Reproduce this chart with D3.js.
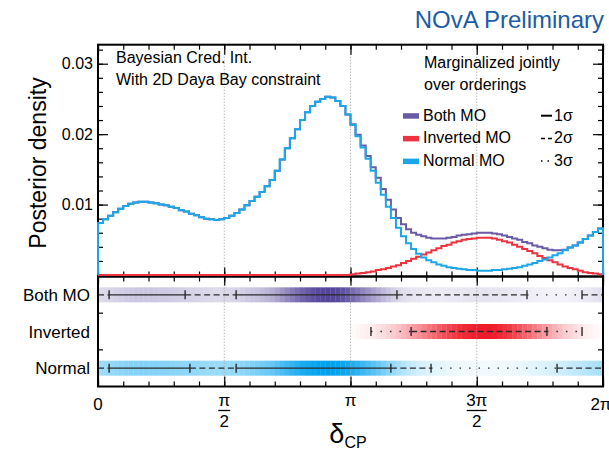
<!DOCTYPE html>
<html>
<head>
<meta charset="utf-8">
<script src="https://cdn.jsdelivr.net/npm/d3@7"></script>
<style>
  body { margin: 0; background: #fff; }
  text { font-family: "Liberation Sans", Arial, Helvetica, sans-serif; }
</style>
</head>
<body>
<svg id="chart" width="609" height="453"></svg>
<script>
// Posterior density per bin, 100 bins over [0, 2pi]
const normalMO = [
  0.0074, 0.0079, 0.0084, 0.0089, 0.0094, 0.0098, 0.0101, 0.0103, 0.0104, 0.0104,
  0.0103, 0.0102, 0.0100, 0.0099, 0.0097, 0.0095, 0.0092, 0.0090, 0.0087, 0.0085,
  0.0082, 0.0080, 0.0079, 0.0078, 0.0079, 0.0081, 0.0084, 0.0088, 0.0093, 0.0099,
  0.0105, 0.0111, 0.0118, 0.0126, 0.0135, 0.0148, 0.0164, 0.0180, 0.0194, 0.0207,
  0.0220, 0.0231, 0.0240, 0.0246, 0.0250, 0.0253, 0.0252, 0.0247, 0.0240, 0.0228,
  0.0213, 0.0197, 0.0181, 0.0165, 0.0148, 0.0131, 0.0114, 0.0097, 0.0081, 0.0067,
  0.0055, 0.0045, 0.0037, 0.0030, 0.0025, 0.0021, 0.0018, 0.0015, 0.0013, 0.0011,
  0.0010, 0.0009, 0.0008, 0.0007, 0.0007, 0.0006, 0.0006, 0.0006, 0.0007, 0.0007,
  0.0008, 0.0009, 0.0010, 0.0011, 0.0013, 0.0015, 0.0017, 0.0020, 0.0022, 0.0025,
  0.0028, 0.0031, 0.0035, 0.0039, 0.0042, 0.0046, 0.0051, 0.0056, 0.0061, 0.0066
];
const invertedMO = [
  0, 0, 0, 0, 0, 0, 0, 0, 0, 0,
  0, 0, 0, 0, 0, 0, 0, 0, 0, 0,
  0, 0, 0, 0, 0, 0, 0, 0, 0, 0,
  0, 0, 0, 0, 0, 0, 0, 0, 0, 0,
  0, 0, 0, 0, 0, 0, 0, 0, 0, 0,
  0.0001, 0.0002, 0.0003, 0.0004, 0.0005, 0.0007, 0.0008, 0.0010, 0.0012, 0.0014,
  0.0017, 0.0020, 0.0023, 0.0026, 0.0029, 0.0032, 0.0035, 0.0038, 0.0041, 0.0043,
  0.0046, 0.0048, 0.0050, 0.0051, 0.0052, 0.0053, 0.0053, 0.0053, 0.0052, 0.0050,
  0.0048, 0.0046, 0.0043, 0.0040, 0.0037, 0.0034, 0.0031, 0.0027, 0.0024, 0.0021,
  0.0018, 0.0015, 0.0012, 0.0010, 0.0008, 0.0006, 0.0004, 0.0003, 0.0002, 0.0001
];
const bothMO = [
  0.0074, 0.0079, 0.0084, 0.0089, 0.0094, 0.0098, 0.0101, 0.0103, 0.0104, 0.0104,
  0.0103, 0.0102, 0.0100, 0.0099, 0.0097, 0.0095, 0.0092, 0.0090, 0.0087, 0.0085,
  0.0082, 0.0080, 0.0079, 0.0078, 0.0079, 0.0081, 0.0084, 0.0088, 0.0093, 0.0099,
  0.0105, 0.0111, 0.0118, 0.0126, 0.0135, 0.0148, 0.0164, 0.0180, 0.0194, 0.0207,
  0.0220, 0.0231, 0.0240, 0.0246, 0.0250, 0.0253, 0.0252, 0.0247, 0.0240, 0.0228,
  0.0214, 0.0199, 0.0184, 0.0169, 0.0153, 0.0138, 0.0122, 0.0107, 0.0093, 0.0081,
  0.0072, 0.0065, 0.0060, 0.0057, 0.0055, 0.0053, 0.0052, 0.0052, 0.0052, 0.0053,
  0.0054, 0.0056, 0.0057, 0.0058, 0.0059, 0.0060, 0.0060, 0.0060, 0.0059, 0.0058,
  0.0056, 0.0054, 0.0052, 0.0050, 0.0047, 0.0045, 0.0042, 0.0040, 0.0038, 0.0036,
  0.0035, 0.0035, 0.0036, 0.0039, 0.0042, 0.0046, 0.0051, 0.0056, 0.0061, 0.0066
];

const rowNames = ["Both MO", "Inverted", "Normal"];
const legendNames = ["Both MO", "Inverted MO", "Normal MO"];
const colors = ["#6a5aa6", "#ee3340", "#1ca6ea"];

// credible interval segments, [from, to, sigma] in units of pi
const bothIntervals = [[0, 0.044, 2], [0.044, 0.345, 1], [0.345, 0.547, 2], [0.547, 1.184, 1], [1.184, 1.699, 2], [1.699, 1.917, 3], [1.917, 2, 2]];
const invertedIntervals = [[1.081, 1.240, 3], [1.240, 1.778, 2], [1.778, 1.917, 3]];
const normalIntervals = [[0, 0.044, 2], [0.044, 0.364, 1], [0.364, 0.547, 2], [0.547, 1.160, 1], [1.160, 1.319, 2], [1.319, 1.818, 3], [1.818, 2, 2]];

const yTicks = [0.01, 0.02, 0.03];
const xMajor = [0, 0.5, 1, 1.5, 2];  // units of pi

const PI = Math.PI;
const svg = d3.select("#chart");
const L = 98, R = 603, T = 44.7, MID = 276.5, B = 386.5;

const x = d3.scaleLinear().domain([0, 2 * PI]).range([L, R]);
const y = d3.scaleLinear().domain([0, 0.0327]).range([275, T]);
const row = d3.scaleBand().domain(rowNames).range([MID, B]);

const binW = 2 * PI / normalMO.length;
const series = [bothMO, invertedMO, normalMO];
const rowIntervals = [bothIntervals, invertedIntervals, normalIntervals];
const bandColors = ["#54449a", "#ee1c2a", "#00a2ee"];
const bandGamma = [1.35, 1.0, 0.8];

// --- bottom panel: density bands
series.forEach((vals, k) => {
  const mx = d3.max(vals);
  const cy = row(rowNames[k]) + row.bandwidth() / 2;
  const interp = d3.interpolateRgb("#ffffff", bandColors[k]);
  svg.append("g").selectAll("rect")
    .data(vals).join("rect")
    .attr("x", (d, i) => x(i * binW))
    .attr("y", cy - 7.5)
    .attr("width", x(binW) - x(0) + 0.3)
    .attr("height", 15)
    .attr("fill", d => interp(Math.pow(d / mx, bandGamma[k])));
});

// dotted grid lines
svg.append("g").selectAll("line")
  .data([0.5, 1, 1.5]).join("line")
  .attr("x1", d => x(d * PI)).attr("x2", d => x(d * PI))
  .attr("y1", T).attr("y2", B)
  .attr("stroke", "#9a9a9a").attr("stroke-width", 1)
  .attr("stroke-dasharray", "1,2");

// interval lines
const dash = { 1: null, 2: "6,3.5", 3: "1.5,8" };
rowIntervals.forEach((segs, k) => {
  const cy = row(rowNames[k]) + row.bandwidth() / 2;
  const g = svg.append("g");
  g.selectAll("line.seg")
    .data(segs).join("line").attr("class", "seg")
    .attr("x1", d => x(d[0] * PI)).attr("x2", d => x(d[1] * PI))
    .attr("y1", cy).attr("y2", cy)
    .attr("stroke", "#2a2a2a").attr("stroke-width", 1.4)
    .attr("stroke-dasharray", d => dash[d[2]]);
  const edges = [];
  segs.forEach(s => { [s[0], s[1]].forEach(e => { if (e > 0 && e < 2 && !edges.includes(e)) edges.push(e); }); });
  g.selectAll("line.edge")
    .data(edges).join("line").attr("class", "edge")
    .attr("x1", d => x(d * PI)).attr("x2", d => x(d * PI))
    .attr("y1", cy - 4.5).attr("y2", cy + 4.5)
    .attr("stroke", "#2a2a2a").attr("stroke-width", 1.4);
});

// --- frames
svg.append("rect").attr("x", L).attr("y", T).attr("width", R - L).attr("height", MID - T)
  .attr("fill", "none").attr("stroke", "#000").attr("stroke-width", 2);
svg.append("rect").attr("x", L).attr("y", MID).attr("width", R - L).attr("height", B - MID)
  .attr("fill", "none").attr("stroke", "#000").attr("stroke-width", 2);

// --- axes ticks
const xMinor = d3.range(0, 21).map(i => i * PI / 10);
const xMaj = xMajor.map(d => d * PI);
function xTicksAt(yPos, axisFn, minorLen, majorLen) {
  [[xMinor, minorLen], [xMaj, majorLen]].forEach(([vals, len]) => {
    const g = svg.append("g").attr("transform", `translate(0,${yPos})`)
      .call(axisFn(x).tickValues(vals).tickSize(-len).tickFormat(""));
    g.select(".domain").remove();
    g.selectAll("line").attr("stroke", "#000").attr("stroke-width", 1.2);
  });
}
xTicksAt(T, d3.axisTop, 5, 10);
xTicksAt(MID, d3.axisBottom, 5, 9);
xTicksAt(MID, d3.axisTop, 5, 9);
xTicksAt(B, d3.axisBottom, 5, 10);

const yMinor = d3.range(1, 17).map(i => i * 0.002);
[[d3.axisLeft, L], [d3.axisRight, R]].forEach(([fn, pos]) => {
  [[yMinor, 5], [yTicks, 10]].forEach(([vals, len]) => {
    const g = svg.append("g").attr("transform", `translate(${pos},0)`)
      .call(fn(y).tickValues(vals).tickSize(-len).tickFormat(""));
    g.select(".domain").remove();
    g.selectAll("line").attr("stroke", "#000").attr("stroke-width", 1.2);
  });
});
// y labels
const yAx = svg.append("g").attr("transform", `translate(${L},0)`)
  .call(d3.axisLeft(y).tickValues(yTicks).tickSize(0).tickPadding(5).tickFormat(d3.format(".2f")));
yAx.select(".domain").remove();
yAx.selectAll("text").attr("font-size", 16).attr("fill", "#000");

// bottom panel row separators ticks
const rowEdges = rowNames.slice(1).map(n => row(n));
[[L, 1], [R, -1]].forEach(([pos, dir]) => {
  svg.append("g").selectAll("line").data(rowEdges).join("line")
    .attr("x1", pos).attr("x2", pos + dir * 5)
    .attr("y1", d => d).attr("y2", d => d)
    .attr("stroke", "#000").attr("stroke-width", 1.2);
});

// --- histograms (step outlines)
function stepPath(vals) {
  const p = d3.path();
  p.moveTo(x(0), y(0));
  vals.forEach((v, i) => {
    p.lineTo(x(i * binW), y(v));
    p.lineTo(x((i + 1) * binW), y(v));
  });
  p.lineTo(x(2 * PI), y(0));
  return p.toString();
}
series.forEach((vals, k) => {
  svg.append("path").attr("d", stepPath(vals))
    .attr("fill", "none").attr("stroke", colors[k]).attr("stroke-width", 2);
});

// --- row labels
svg.append("g").selectAll("text").data(rowNames).join("text")
  .attr("x", 90).attr("y", d => row(d) + row.bandwidth() / 2 + 6)
  .attr("text-anchor", "end").attr("font-size", 17).text(d => d);

// --- x tick labels
const lab = svg.append("g").attr("font-size", 17);
lab.append("text").attr("x", x(0)).attr("y", 410).attr("text-anchor", "middle").text("0");
lab.append("text").attr("x", x(PI)).attr("y", 406).attr("text-anchor", "middle").text("\u03C0");
lab.append("text").attr("x", x(2 * PI) - 2).attr("y", 410).attr("text-anchor", "middle").text("2\u03C0");
[[0.5, "\u03C0"], [1.5, "3\u03C0"]].forEach(([v, num]) => {
  const cx = x(v * PI);
  lab.append("text").attr("x", cx).attr("y", 406).attr("text-anchor", "middle").text(num);
  lab.append("line").attr("x1", cx - (num.length > 1 ? 10 : 6)).attr("x2", cx + (num.length > 1 ? 10 : 6))
    .attr("y1", 410.5).attr("y2", 410.5).attr("stroke", "#000").attr("stroke-width", 1.3);
  lab.append("text").attr("x", cx).attr("y", 427).attr("text-anchor", "middle").text("2");
});

// axis titles
const xt = svg.append("text").attr("x", 348).attr("y", 443).attr("text-anchor", "middle");
xt.append("tspan").attr("font-size", 27).text("\u03B4");
xt.append("tspan").attr("font-size", 16).attr("dy", 5).text("CP");

svg.append("text").attr("transform", "translate(46,163) rotate(-90)")
  .attr("text-anchor", "middle").attr("font-size", 23).text("Posterior density");

// title and notes
svg.append("text").attr("x", 604).attr("y", 28).attr("text-anchor", "end")
  .attr("font-size", 24).attr("fill", "#1d5ca6").text("NOvA Preliminary");

const notes = svg.append("g").attr("font-size", 16);
notes.append("text").attr("x", 116).attr("y", 63).text("Bayesian Cred. Int.");
notes.append("text").attr("x", 116).attr("y", 85).text("With 2D Daya Bay constraint");
notes.append("text").attr("x", 424).attr("y", 68).text("Marginalized jointly");
notes.append("text").attr("x", 424).attr("y", 90).text("over orderings");

// legend
const lg = svg.append("g").attr("font-size", 16);
legendNames.forEach((n, k) => {
  const by = 120.7 + k * 22.7;
  lg.append("rect").attr("x", 403).attr("y", by - 7.5).attr("width", 16).attr("height", 5.5).attr("fill", colors[k]);
  lg.append("text").attr("x", 423).attr("y", by).text(n);
  lg.append("line").attr("x1", 541).attr("x2", 552).attr("y1", by - 5).attr("y2", by - 5)
    .attr("stroke", "#000").attr("stroke-width", k === 0 ? 2 : 1.5)
    .attr("stroke-dasharray", k === 0 ? null : (k === 1 ? "4,3" : "1.5,5"));
  lg.append("text").attr("x", 554).attr("y", by).text((k + 1) + "\u03C3");
});
</script>
</body>
</html>
